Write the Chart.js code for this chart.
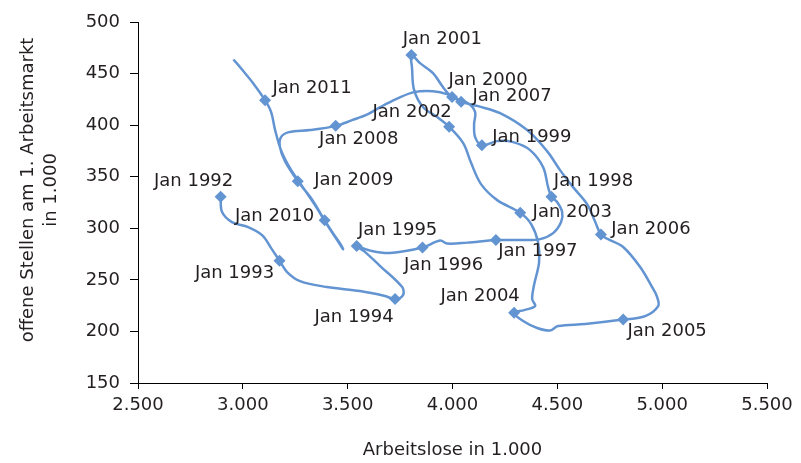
<!DOCTYPE html>
<html>
<head>
<meta charset="utf-8">
<script src="https://cdn.jsdelivr.net/npm/chart.js@4"></script>
<style>
  html, body { margin: 0; padding: 0; background: #fff; }
  #wrap { width: 801px; height: 463px; }
</style>
</head>
<body>
<div id="wrap"><canvas id="c"></canvas></div>
<script>
// Beveridge-Kurve: Arbeitslose vs. offene Stellen (in 1.000), Monatsverlauf,
// Markierung jeweils im Januar. Leere Einträge = Zwischenmonate ohne Marker.
const monate = [
  "Jan 1992", "", "", "", "", "",
  "Jan 1993", "", "", "", "", "",
  "Jan 1994", "", "", "", "",
  "Jan 1995", "", "",
  "Jan 1996", "", "", "",
  "Jan 1997", "", "", "", "", "", "",
  "Jan 1998", "", "", "", "", "",
  "Jan 1999", "", "", "", "",
  "Jan 2000", "", "", "",
  "Jan 2001", "", "", "", "",
  "Jan 2002", "", "", "", "",
  "Jan 2003", "", "", "", "", "", "", "",
  "Jan 2004", "", "", "", "", "",
  "Jan 2005", "", "", "", "", "", "", "",
  "Jan 2006", "", "", "", "", "", "", "", "",
  "Jan 2007", "", "", "", "", "", "", "",
  "Jan 2008", "", "", "", "", "",
  "Jan 2009", "",
  "Jan 2010", "", "", "", "", "", "", "", "", "", "", "",
  "Jan 2011", "", "", ""
]
const arbeitslose = [
  2894, 2901, 2948, 3025, 3092, 3135,
  3175, 3211, 3273, 3402, 3559, 3678,
  3726, 3764, 3760, 3655, 3578,
  3543, 3616, 3702,
  3857, 3941, 3974, 4070,
  4207, 4332, 4418, 4480, 4518, 4523, 4499,
  4472, 4456, 4432, 4370, 4289, 4213,
  4140, 4108, 4103, 4108, 4074,
  3998, 3955, 3907, 3845,
  3804, 3807, 3817, 3860, 3927,
  3984, 4051, 4089, 4136, 4213,
  4323, 4375, 4408, 4413, 4389, 4380, 4394, 4342,
  4294, 4337, 4404, 4466, 4504, 4633,
  4814, 4919, 4981, 4976, 4952, 4895, 4814, 4742,
  4708, 4681, 4642, 4575, 4513, 4451, 4356, 4227, 4122,
  4041, 3974, 3907, 3817, 3731, 3655, 3597, 3521,
  3443, 3321, 3220, 3182, 3177, 3201,
  3262, 3325,
  3390, 3430, 3469, 3478, 3459, 3406, 3344, 3273, 3225, 3182, 3154, 3135,
  3106, 3049, 2991, 2955
]
const offeneStellen = [
  330.5, 315.7, 306.0, 301.2, 293.4, 280.8,
  268.5, 257.6, 248.8, 243.0, 239.1, 234.3,
  231.4, 235.3, 243.0, 263.4, 277.9,
  282.8, 277.9, 276.0,
  281.3, 288.1, 285.2, 286.1,
  288.6, 288.6, 289.5, 295.3, 306.0, 315.7, 325.4,
  330.5, 339.9, 359.3, 375.8, 383.5, 384.5,
  380.6, 388.4, 401.0, 412.6, 421.3,
  427.4, 436.8, 450.4, 460.1,
  468.1, 455.2, 433.9, 417.4, 407.8,
  398.4, 382.6, 363.2, 342.8, 327.3,
  315.0, 304.1, 286.6, 267.2, 245.0, 231.4, 224.6, 220.7,
  218.1, 210.1, 203.3, 200.9, 205.2, 207.2,
  211.5, 214.9, 224.6, 233.3, 243.0, 262.4, 281.8, 289.5,
  293.9, 306.0, 323.4, 339.9, 356.4, 374.8, 395.2, 411.6, 418.4,
  422.8, 430.0, 432.9, 432.0, 425.2, 417.4, 410.7, 404.8,
  399.3, 395.2, 393.2, 388.4, 378.7, 365.1,
  345.7, 329.3,
  307.9, 295.3, 283.7, 279.8, 285.7, 302.1, 322.5, 343.8, 358.3, 375.8, 395.2, 412.6,
  424.2, 440.7, 455.2, 463.7
]
const xTicks = [2500, 3000, 3500, 4000, 4500, 5000, 5500]
const yTicks = [150, 200, 250, 300, 350, 400, 450, 500]

// Lage der Beschriftung relativ zum Marker (px)
const labelOffset = {
  "Jan 1992": [-27, -15], "Jan 1993": [-45, 13], "Jan 1994": [-41, 18],
  "Jan 1995": [41, -16], "Jan 1996": [21, 18], "Jan 1997": [42, 11],
  "Jan 1998": [42, -15], "Jan 1999": [50, -8], "Jan 2000": [36, -17],
  "Jan 2001": [31, -16], "Jan 2002": [-37, -14], "Jan 2003": [52, 0],
  "Jan 2004": [-34, -16], "Jan 2005": [44, 12], "Jan 2006": [50, -5],
  "Jan 2007": [51, -5], "Jan 2008": [23, 13], "Jan 2009": [56, -1],
  "Jan 2010": [-50, -4], "Jan 2011": [47, -12]
}

const FONT = "'DejaVu Sans', sans-serif"
const TEXT = "#231f20"
const BLUE = "#6394d2"
const fmt = (v) => v.toLocaleString("de-DE")

const pointLabels = {
  id: "pointLabels",
  afterDatasetsDraw(chart) {
    const { ctx } = chart
    const meta = chart.getDatasetMeta(0)
    ctx.save()
    ctx.font = `18px ${FONT}`
    ctx.fillStyle = TEXT
    ctx.textAlign = "center"
    ctx.textBaseline = "middle"
    monate.forEach((m, i) => {
      if (!m) return
      const p = meta.data[i]
      const [dx, dy] = labelOffset[m] || [0, -15]
      ctx.fillText(m, p.x + dx, p.y + dy)
    })
    ctx.restore()
  }
}

const yTitle = {
  id: "yTitle",
  afterDraw(chart) {
    const { ctx } = chart
    ctx.save()
    ctx.font = `18px ${FONT}`
    ctx.fillStyle = TEXT
    ctx.textAlign = "center"
    ctx.textBaseline = "middle"
    ctx.translate(28, 190)
    ctx.rotate(-Math.PI / 2)
    ctx.fillText("offene Stellen am 1. Arbeitsmarkt", 0, 0)
    ctx.fillText("in 1.000", 0, 23)
    ctx.restore()
  }
}

new Chart(document.getElementById("c"), {
  type: "scatter",
  data: {
    datasets: [{
      data: arbeitslose.map((x, i) => ({ x, y: offeneStellen[i] })),
      showLine: true,
      borderColor: BLUE,
      borderWidth: 2.5,
      tension: 0.35,
      pointStyle: "rectRot",
      pointRadius: monate.map((m) => (m ? 6 : 0)),
      pointHoverRadius: monate.map((m) => (m ? 6 : 0)),
      pointBackgroundColor: BLUE,
      pointBorderColor: BLUE,
      pointBorderWidth: 0
    }]
  },
  options: {
    responsive: true,
    maintainAspectRatio: false,
    animation: false,
    layout: { padding: { left: 0, right: 34, top: 22, bottom: 0 } },
    plugins: {
      legend: { display: false },
      tooltip: { enabled: false }
    },
    scales: {
      x: {
        type: "linear",
        min: 2500,
        max: 5500,
        afterBuildTicks: (s) => { s.ticks = xTicks.map((v) => ({ value: v })) },
        afterFit: (s) => { s.height = 80 },
        grid: { drawOnChartArea: false, drawTicks: true, tickLength: 6, color: "#000" },
        border: { color: "#000", width: 1 },
        ticks: { color: TEXT, font: { family: FONT, size: 18 }, padding: 6, callback: fmt, maxRotation: 0 },
        title: {
          display: true,
          text: "Arbeitslose in 1.000",
          color: TEXT,
          font: { family: FONT, size: 18 },
          padding: { top: 0, bottom: 2 }
        }
      },
      y: {
        type: "linear",
        min: 150,
        max: 500,
        afterBuildTicks: (s) => { s.ticks = yTicks.map((v) => ({ value: v })) },
        afterFit: (s) => { s.width = 138 },
        grid: { drawOnChartArea: false, drawTicks: true, tickLength: 8, color: "#000" },
        border: { color: "#000", width: 1 },
        ticks: { color: TEXT, font: { family: FONT, size: 18 }, padding: 10, callback: fmt }
      }
    }
  },
  plugins: [pointLabels, yTitle]
})
</script>
</body>
</html>
